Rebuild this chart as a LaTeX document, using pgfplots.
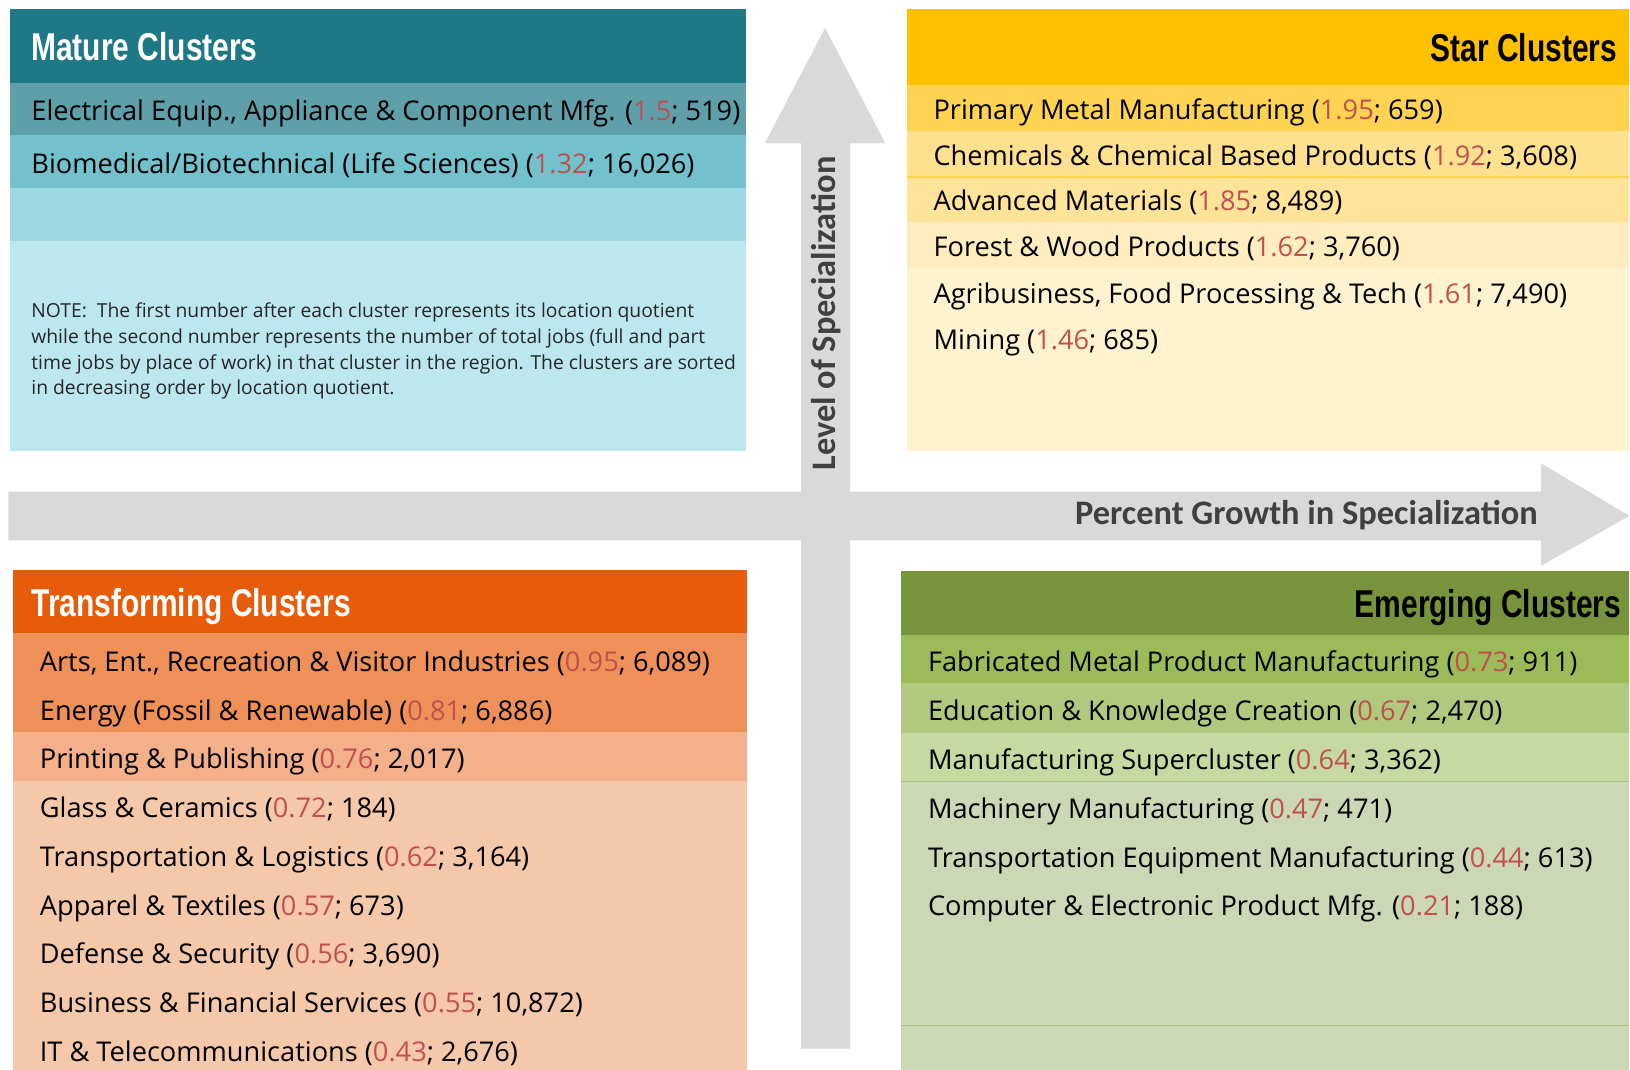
\documentclass[border=0pt]{standalone}
\usepackage{pgfplots}
\pgfplotsset{compat=1.18}
\usepackage{fontspec}
\setmainfont{Open Sans}
\newfontfamily\headfont[FakeStretch=0.772]{Liberation Sans}
\newfontfamily\axfont{Carlito}
\definecolor{matH}{HTML}{1E7886}
\definecolor{matA}{HTML}{5E9FA9}
\definecolor{matB}{HTML}{73C1CD}
\definecolor{matC}{HTML}{9ED9E3}
\definecolor{matD}{HTML}{BCE7EE}
\definecolor{starH}{HTML}{FFC000}
\definecolor{starA}{HTML}{FFD352}
\definecolor{starB}{HTML}{FFE08F}
\definecolor{starC}{HTML}{FFE399}
\definecolor{starD}{HTML}{FFEDC0}
\definecolor{starE}{HTML}{FFF2CF}
\definecolor{starL}{HTML}{FFD24D}
\definecolor{trH}{HTML}{E65C0A}
\definecolor{trA}{HTML}{EF9058}
\definecolor{trB}{HTML}{F3B08A}
\definecolor{trC}{HTML}{F5C8AA}
\definecolor{emH}{HTML}{77933C}
\definecolor{emA}{HTML}{9BBB59}
\definecolor{emB}{HTML}{B0C97E}
\definecolor{emC}{HTML}{C6D9A1}
\definecolor{emD}{HTML}{CBD7B5}
\definecolor{emL}{HTML}{A9C08A}
\definecolor{arr}{HTML}{D9D9D9}
\definecolor{lqred}{HTML}{C0504D}
\definecolor{axt}{HTML}{404040}
\newcommand{\cl}[3]{#1 (\textcolor{lqred}{#2}; #3)}
\newcommand{\bx}[5]{\addplot[fill=#5, draw=none] coordinates {(#1,#2) (#3,#2) (#3,#4) (#1,#4)} -- cycle;}
\begin{document}
\begin{tikzpicture}
\begin{axis}[
  scale only axis, width=815pt, height=535pt,
  xmin=0, xmax=1630, ymin=0, ymax=1070, y dir=reverse,
  hide axis, clip=false,
]
% background
\bx{0}{0}{1630}{1070}{white}
% arrows
\addplot[fill=arr, draw=none] coordinates {(801.5,143.5) (765,143.5) (825.4,28) (885.7,143.5) (850.3,143.5) (850.3,1049) (801.5,1049)} -- cycle;
\addplot[fill=arr, draw=none] coordinates {(8.3,491.7) (1541.6,491.7) (1541.6,463.6) (1630,516) (1541.6,566) (1541.6,540.5) (8.3,540.5)} -- cycle;
% Mature
\bx{10.5}{9}{746}{83}{matH}
\bx{10.5}{83}{746}{135}{matA}
\bx{10.5}{135}{746}{188}{matB}
\bx{10.5}{188}{746}{241}{matC}
\bx{10.5}{241}{746}{451.5}{matD}
% Star
\bx{907.5}{9}{1630}{85}{starH}
\bx{907.5}{85}{1630}{131}{starA}
\bx{907.5}{131}{1630}{177}{starB}
\bx{907.5}{177}{1630}{222}{starC}
\bx{907.5}{222}{1630}{267}{starD}
\bx{907.5}{267}{1630}{451.5}{starE}
\addplot[starL, line width=0.6pt] coordinates {(907.5,177) (1630,177)};
% Transforming
\bx{13.5}{570}{747.5}{633}{trH}
\bx{13.5}{633}{747.5}{732}{trA}
\bx{13.5}{732}{747.5}{781}{trB}
\bx{13.5}{781}{747.5}{1070}{trC}
% Emerging
\bx{901}{571}{1630}{635}{emH}
\bx{901}{635}{1630}{683}{emA}
\bx{901}{683}{1630}{733}{emB}
\bx{901}{733}{1630}{781.5}{emC}
\bx{901}{781.5}{1630}{1070}{emD}
\addplot[emL, line width=0.6pt] coordinates {(901,781.5) (1630,781.5)};
\addplot[emL, line width=0.6pt] coordinates {(901,1026) (1630,1026)};
% axis labels
\node[inner sep=0pt, anchor=base, font=\axfont\bfseries\fontsize{17.2}{20}\selectfont, text=axt] at (axis cs:1307,524.5) {Percent Growth in Specialization};
\node[inner sep=0pt, anchor=base west, rotate=90, font=\axfont\bfseries\fontsize{17.2}{20}\selectfont, text=axt] at (axis cs:836,471) {Level of Specialization};
% headings
\begin{scope}[every node/.append style={inner sep=0pt, font=\headfont\bfseries\fontsize{19.4}{22}\selectfont}]
\node[anchor=base west, text=white] at (axis cs:31,61) {Mature Clusters};
\node[anchor=base east, text=black] at (axis cs:1618,62) {Star Clusters};
\node[anchor=base west, text=white] at (axis cs:31,617) {Transforming Clusters};
\node[anchor=base east, text=black] at (axis cs:1622,618) {Emerging Clusters};
\end{scope}
\begin{scope}[every node/.append style={inner sep=0pt, anchor=base west, font=\fontsize{13.6}{16}\selectfont, text=black}]
% Mature items
\node at (axis cs:31,120.5) {\cl{Electrical Equip., Appliance \& Component Mfg.}{1.5}{519}};
\node at (axis cs:31,173.5) {\cl{Biomedical/Biotechnical (Life Sciences)}{1.32}{16,026}};
% Star items
\node at (axis cs:933.5,119.5) {\cl{Primary Metal Manufacturing}{1.95}{659}};
\node at (axis cs:933.5,165.5) {\cl{Chemicals \& Chemical Based Products}{1.92}{3,608}};
\node at (axis cs:933.5,211) {\cl{Advanced Materials}{1.85}{8,489}};
\node at (axis cs:933.5,257) {\cl{Forest \& Wood Products}{1.62}{3,760}};
\node at (axis cs:933.5,303.5) {\cl{Agribusiness, Food Processing \& Tech}{1.61}{7,490}};
\node at (axis cs:933.5,349.5) {\cl{Mining}{1.46}{685}};
% Transforming items
\node at (axis cs:39.5,672) {\cl{Arts, Ent., Recreation \& Visitor Industries}{0.95}{6,089}};
\node at (axis cs:39.5,721) {\cl{Energy (Fossil \& Renewable)}{0.81}{6,886}};
\node at (axis cs:39.5,769) {\cl{Printing \& Publishing}{0.76}{2,017}};
\node at (axis cs:39.5,817.7) {\cl{Glass \& Ceramics}{0.72}{184}};
\node at (axis cs:39.5,866.5) {\cl{Transportation \& Logistics}{0.62}{3,164}};
\node at (axis cs:39.5,915.4) {\cl{Apparel \& Textiles}{0.57}{673}};
\node at (axis cs:39.5,964.2) {\cl{Defense \& Security}{0.56}{3,690}};
\node at (axis cs:39.5,1013) {\cl{Business \& Financial Services}{0.55}{10,872}};
\node at (axis cs:39.5,1062) {\cl{IT \& Telecommunications}{0.43}{2,676}};
% Emerging items
\node at (axis cs:928,672) {\cl{Fabricated Metal Product Manufacturing}{0.73}{911}};
\node at (axis cs:928,721) {\cl{Education \& Knowledge Creation}{0.67}{2,470}};
\node at (axis cs:928,770) {\cl{Manufacturing Supercluster}{0.64}{3,362}};
\node at (axis cs:928,818.7) {\cl{Machinery Manufacturing}{0.47}{471}};
\node at (axis cs:928,867.5) {\cl{Transportation Equipment Manufacturing}{0.44}{613}};
\node at (axis cs:928,915.4) {\cl{Computer \& Electronic Product Mfg.}{0.21}{188}};
\end{scope}
% note
\node[inner sep=0pt, anchor=base west, align=left, font=\fontsize{9.65}{12.85}\selectfont, text=black!85] at (axis cs:31,395) {NOTE:\ \ The first number after each cluster represents its location quotient\\while the second number represents the number of total jobs (full and part\\time jobs by place of work) in that cluster in the region. The clusters are sorted\\in decreasing order by location quotient.};
\end{axis}
\end{tikzpicture}
\end{document}
